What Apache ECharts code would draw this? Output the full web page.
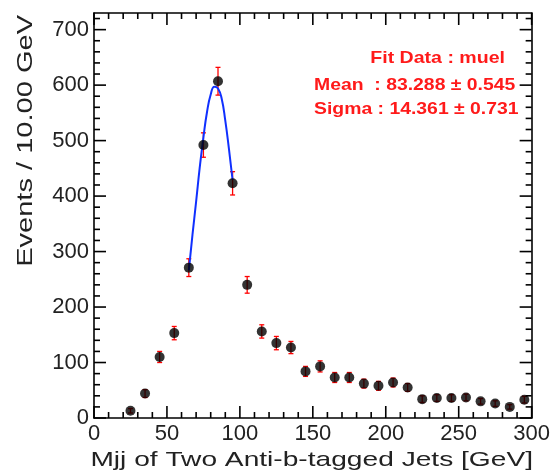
<!DOCTYPE html>
<html><head><meta charset="utf-8">
<script src="https://cdn.jsdelivr.net/npm/echarts@6/dist/echarts.min.js"></script>
<style>html,body{margin:0;padding:0;background:#fff}#c{width:553px;height:476px}</style>
</head><body><div id="c"></div>
<script>
// Bin centres (GeV)
const binCenters = [25,35,45,55,65,75,85,95,105,115,125,135,145,155,165,175,185,195,205,215,225,235,245,255,265,275,285,295];
// Events per bin
const events = [13,44,110,153,271,492,607,423,240,156,135,127,84,93,73,73,62,58,64,55,34,36,36,37,30,26,20,33];
// Error bar half-heights
const errors = [4,7,10,12,16,22,25,21,15,12,12,11,9,10,9,9,8,8,8,7,6,6,6,6,5,5,4,6];
// Fit curve samples (x, y)
const fitX = [65,67.5,70,72.5,75,77.5,80,82.5,85,87.5,90,92.5,95];
const fitY = [266,330,390,452,506,552,583,597,594,576,536,485,429];
// Tick labels
const xTicks = ['0','50','100','150','200','250','300'];
const yTicks = ['0','100','200','300','400','500','600','700'];
const fitTexts = ['Fit Data : muel','Mean  : 83.288 \u00b1 0.545','Sigma : 14.361 \u00b1 0.731'];

const X_MAX = 300, Y_MAX = 730;
const FONT = '"Liberation Sans", Arial, Helvetica, sans-serif';
const chart = echarts.init(document.getElementById('c'), null, {renderer:'canvas'});

function mkAxis(pos, isX, labels){
  const o = {
    type:'value', min:0, max:isX?X_MAX:Y_MAX, interval:isX?50:100, position:pos,
    axisLine:{show:true,onZero:false,lineStyle:{color:'#000',width:1.6}},
    splitLine:{show:false},
    axisTick:{show:false},
    minorTick:{show:false},
    axisLabel:{show:false}
  };
  if (labels) {
    o.axisLabel = {show:true,margin:5,color:'#222',fontSize:22,fontFamily:FONT,
      showMaxLabel:isX,
      formatter:v=>labels[Math.round(v/(isX?50:100))]||''};
  }
  return o;
}

const textGraphics = [
  {type:'text',x:26,y:15,rotation:Math.PI/2,scaleX:1.32,style:{text:'Events / 10.00 GeV',fill:'#222',
    font:'22px '+FONT,align:'right',verticalAlign:'middle'}},
  {type:'text',x:533,y:460,scaleX:1.34,style:{text:'Mjj of Two Anti-b-tagged Jets [GeV]',fill:'#222',
    font:'21px '+FONT,align:'right',verticalAlign:'middle'}},
  {type:'text',x:505,y:58,scaleX:1.15,style:{text:fitTexts[0],fill:'#ff1a1a',font:'bold 17px '+FONT,align:'right',verticalAlign:'middle'}},
  {type:'text',x:314,y:85,scaleX:1.14,style:{text:fitTexts[1],fill:'#ff1a1a',font:'bold 17px '+FONT,align:'left',verticalAlign:'middle'}},
  {type:'text',x:314,y:109,scaleX:1.14,style:{text:fitTexts[2],fill:'#ff1a1a',font:'bold 17px '+FONT,align:'left',verticalAlign:'middle'}}
];

chart.setOption({
  animation:false,
  backgroundColor:'#fff',
  grid:{left:94,right:17,top:13,bottom:58,show:false},
  xAxis:[mkAxis('bottom',true,xTicks), mkAxis('top',true,null)],
  yAxis:[mkAxis('left',false,yTicks), mkAxis('right',false,null)],
  series:[
    {type:'custom',xAxisIndex:0,yAxisIndex:0,z:2,
      data:binCenters.map((x,i)=>[x,events[i]-errors[i],events[i]+errors[i]]),
      renderItem:function(params,api){
        const lo=api.coord([api.value(0),api.value(1)]);
        const hi=api.coord([api.value(0),api.value(2)]);
        const c=2.5;
        const st={stroke:'#ff0000',lineWidth:1.3};
        return {type:'group',children:[
          {type:'line',shape:{x1:lo[0],y1:lo[1],x2:hi[0],y2:hi[1]},style:st},
          {type:'line',shape:{x1:lo[0]-c,y1:lo[1],x2:lo[0]+c,y2:lo[1]},style:st},
          {type:'line',shape:{x1:hi[0]-c,y1:hi[1],x2:hi[0]+c,y2:hi[1]},style:st}
        ]};
      }},
    {type:'line',xAxisIndex:0,yAxisIndex:0,z:3,data:fitX.map((x,i)=>[x,fitY[i]]),
      smooth:true,showSymbol:false,lineStyle:{color:'#1030ff',width:2}},
    {type:'scatter',xAxisIndex:0,yAxisIndex:0,z:4,data:binCenters.map((x,i)=>[x,events[i]]),
      symbol:'circle',symbolSize:10,itemStyle:{color:'#000'}}
  ],
  graphic:textGraphics
});

// Inside frame ticks, positioned via the chart's own axis scales
const tickEls = [];
const tst = {stroke:'#000', lineWidth:1.6};
for (let v = 0; v <= X_MAX; v += 10) {
  const b = chart.convertToPixel({gridIndex:0}, [v,0]);
  const t = chart.convertToPixel({gridIndex:0}, [v,Y_MAX]);
  const len = (v % 50 === 0) ? 12 : 6;
  tickEls.push({type:'line',z:10,shape:{x1:b[0],y1:b[1],x2:b[0],y2:b[1]-len},style:tst});
  tickEls.push({type:'line',z:10,shape:{x1:t[0],y1:t[1],x2:t[0],y2:t[1]+len},style:tst});
}
for (let v = 0; v <= Y_MAX; v += 20) {
  const l = chart.convertToPixel({gridIndex:0}, [0,v]);
  const r = chart.convertToPixel({gridIndex:0}, [X_MAX,v]);
  const len = (v % 100 === 0) ? 12 : 6;
  tickEls.push({type:'line',z:10,shape:{x1:l[0],y1:l[1],x2:l[0]+len,y2:l[1]},style:tst});
  tickEls.push({type:'line',z:10,shape:{x1:r[0],y1:r[1],x2:r[0]-len,y2:r[1]},style:tst});
}
chart.setOption({graphic: textGraphics.concat(tickEls)});
</script></body></html>
